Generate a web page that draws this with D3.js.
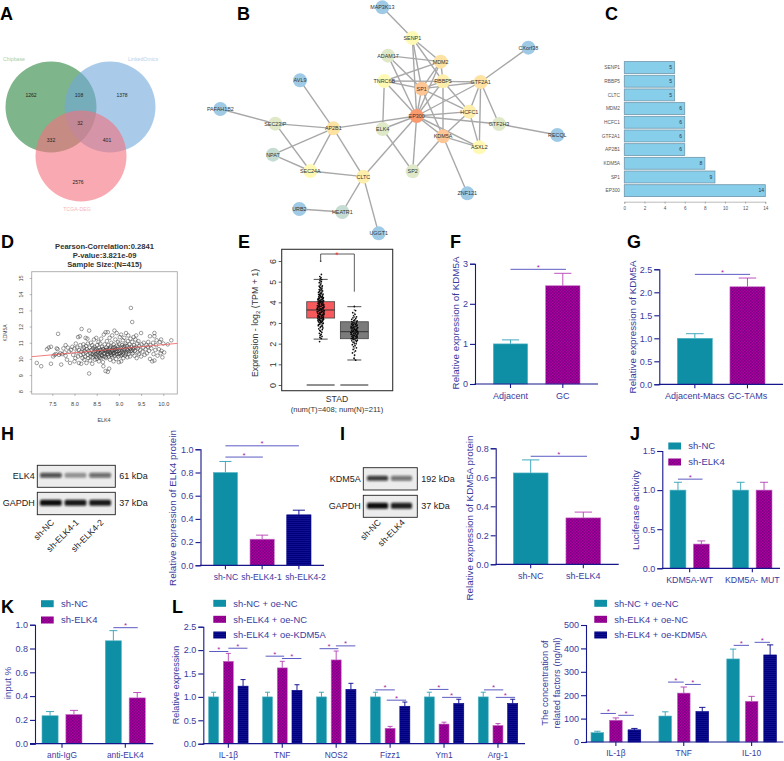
<!DOCTYPE html>
<html>
<head>
<meta charset="utf-8">
<script src="https://cdnjs.cloudflare.com/ajax/libs/d3/7.8.5/d3.min.js"></script>
<style>
  html, body { margin: 0; background: #fff; }
  svg { display: block; font-family: "Liberation Sans", Arial, sans-serif; }
</style>
</head>
<body>
<svg id="chart" width="784" height="761"></svg>
<script>
// ---- A: venn
const vennSets = ["Chipbase", "LinkedOmics", "TCGA-DEG"];
const vennCounts = ["1262", "108", "1378", "332", "32", "401", "2576"];

// ---- B: network (names, layout units from the picture, colour tier = degree)
const nodeNames = ["MAP3K13","SENP1","ADAM17","MDM2","CXorf38","TNRC6B","RBBP5","SP1","GTF2A1","AVL9","HCFC1","EP300","PAFAH1B2","SEC23IP","AP2B1","ELK4","GTF2H3","RECQL","KDM5A","ASXL2","NPAT","SEC24A","CLTC","SP2","ZNF121","URB2","HEATR1","UGGT1"];
const nodeLayoutX = [547,637,564,722,985,553,729,665,842,300,808,650,61,226,400,548,897,1072,729,838,219,331,490,638,802,298,427,536];
const nodeLayoutY = [22,114,167,185,143,243,244,266,246,241,335,348,327,371,385,387,372,405,409,442,464,513,530,514,580,627,636,700];
const nodeTier = [0,3,2,5,0,3,4,6,5,0,4,7,0,2,5,2,2,0,6,3,1,3,4,2,0,0,1,0];
const edgeList = [
  ["MAP3K13","SENP1"],["SENP1","MDM2"],["SENP1","SP1"],["SENP1","EP300"],["SENP1","RBBP5"],
  ["ADAM17","MDM2"],["ADAM17","EP300"],["ADAM17","SP1"],["MDM2","TNRC6B"],["MDM2","SP1"],
  ["MDM2","RBBP5"],["MDM2","EP300"],["TNRC6B","RBBP5"],["TNRC6B","SP1"],["TNRC6B","EP300"],
  ["TNRC6B","ELK4"],["RBBP5","SP1"],["RBBP5","EP300"],["RBBP5","KDM5A"],["RBBP5","GTF2A1"],
  ["RBBP5","HCFC1"],["SP1","GTF2A1"],["SP1","EP300"],["SP1","HCFC1"],["SP1","KDM5A"],
  ["GTF2A1","CXorf38"],["GTF2A1","EP300"],["GTF2A1","HCFC1"],["GTF2A1","GTF2H3"],["GTF2A1","ASXL2"],
  ["HCFC1","EP300"],["HCFC1","KDM5A"],["HCFC1","ASXL2"],["EP300","KDM5A"],["EP300","ASXL2"],
  ["EP300","GTF2H3"],["EP300","AP2B1"],["EP300","ELK4"],["EP300","SP2"],["EP300","CLTC"],
  ["KDM5A","ASXL2"],["KDM5A","SP2"],["KDM5A","ZNF121"],["ELK4","SP2"],["GTF2H3","RECQL"],
  ["AVL9","AP2B1"],["PAFAH1B2","SEC23IP"],["SEC23IP","AP2B1"],["SEC23IP","SEC24A"],["AP2B1","NPAT"],
  ["AP2B1","SEC24A"],["AP2B1","CLTC"],["NPAT","SEC24A"],["SEC24A","CLTC"],["CLTC","HEATR1"],
  ["CLTC","UGGT1"],["URB2","HEATR1"]
];

// ---- C: hub genes
const hubGenes = ["SENP1","RBBP5","CLTC","MDM2","HCFC1","GTF2A1","AP2B1","KDM5A","SP1","EP300"];
const hubDegrees = [5,5,5,6,6,6,6,8,9,14];

// ---- D: correlation scatter, [ELK4, KDM5A]
const scatterPoints = [
  [7.15,9.75],[7.25,9.55],[7.38,10.6],[7.42,10.7],[7.47,10.75],[7.47,9.7],[7.52,10.15],[7.55,10.25],[7.58,10.3],[7.6,10.65],
  [7.62,10.6],[7.63,11.55],[7.65,10.25],[7.68,10.35],[7.7,9.65],[7.72,10.3],[7.75,10.65],[7.78,10.4],[7.8,10.85],[7.8,10.2],
  [7.83,9.95],[7.85,10.7],[7.88,10.45],[7.9,9.75],[7.92,10.55],[7.95,10.75],[7.97,10.25],[8.0,9.85],[8.0,10.65],[8.02,10.05],
  [8.03,10.95],[8.05,10.4],[8.06,10.7],[8.08,10.15],[8.08,11.35],[8.1,9.75],[8.1,10.55],[8.12,11.4],[8.13,10.85],[8.14,10.25],
  [8.15,9.7],[8.15,10.45],[8.16,11.85],[8.18,10.6],[8.18,10.05],[8.2,10.9],[8.2,10.3],[8.21,10.7],[8.22,9.95],[8.23,10.5],
  [8.24,10.15],[8.25,11.3],[8.25,10.4],[8.26,10.8],[8.27,9.75],[8.28,10.6],[8.29,11.25],[8.3,10.25],[8.3,10.95],[8.31,10.05],
  [8.32,10.5],[8.33,9.1],[8.33,11.75],[8.34,10.7],[8.35,10.35],[8.35,9.9],[8.36,10.15],[8.37,11.0],[8.38,10.55],[8.39,10.3],
  [8.4,10.85],[8.4,9.7],[8.41,10.1],[8.42,10.65],[8.43,10.4],[8.44,11.2],[8.45,10.2],[8.45,10.75],[8.46,9.95],[8.47,10.5],
  [8.48,10.3],[8.49,11.3],[8.5,10.6],[8.5,10.0],[8.51,10.85],[8.52,10.25],[8.53,10.45],[8.54,11.05],[8.55,9.85],[8.55,10.7],
  [8.56,10.15],[8.57,10.35],[8.58,10.95],[8.59,10.55],[8.6,10.05],[8.6,11.25],[8.61,10.25],[8.62,10.75],[8.63,10.45],[8.64,9.8],
  [8.65,9.55],[8.65,10.6],[8.66,11.5],[8.67,10.15],[8.68,10.9],[8.68,10.35],[8.7,9.25],[8.7,10.55],[8.7,11.65],[8.71,10.05],
  [8.72,10.7],[8.73,11.1],[8.74,10.3],[8.75,9.2],[8.75,10.45],[8.75,11.65],[8.76,10.85],[8.77,10.15],[8.78,9.4],[8.78,10.6],
  [8.79,11.3],[8.8,9.95],[8.8,10.4],[8.81,10.75],[8.82,10.25],[8.83,11.0],[8.84,10.5],[8.85,10.1],[8.85,11.45],[8.86,10.65],
  [8.87,10.35],[8.88,10.9],[8.88,9.85],[8.89,10.55],[8.9,11.75],[8.9,10.2],[8.91,10.7],[8.92,11.2],[8.93,10.45],[8.94,10.0],
  [8.95,10.8],[8.95,11.6],[8.96,10.3],[8.97,10.6],[8.98,11.05],[8.99,10.15],[9.0,10.5],[9.0,9.8],[9.01,10.95],[9.02,11.35],
  [9.03,10.35],[9.04,10.7],[9.05,9.85],[9.05,11.5],[9.06,10.25],[9.07,10.85],[9.08,10.55],[9.09,11.15],[9.1,10.4],[9.1,10.05],
  [9.11,10.75],[9.12,11.3],[9.13,10.6],[9.14,10.2],[9.15,10.95],[9.16,11.6],[9.17,10.45],[9.18,10.8],[9.19,10.1],[9.2,11.1],
  [9.2,10.55],[9.21,11.45],[9.22,10.3],[9.23,10.7],[9.24,10.9],[9.25,10.15],[9.26,11.25],[9.27,13.15],[9.27,10.5],[9.28,10.75],
  [9.3,12.28],[9.3,11.05],[9.31,10.35],[9.32,10.6],[9.33,11.35],[9.34,10.85],[9.35,10.2],[9.36,10.5],[9.37,11.2],[9.38,10.7],
  [9.39,11.45],[9.4,10.05],[9.41,10.95],[9.42,10.4],[9.43,10.65],[9.44,11.1],[9.45,10.3],[9.46,10.8],[9.48,10.55],[9.5,11.6],
  [9.5,10.15],[9.51,10.9],[9.53,10.45],[9.55,10.7],[9.56,11.0],[9.58,10.25],[9.6,10.6],[9.62,10.85],[9.63,10.35],[9.65,10.75],
  [9.66,11.05],[9.68,10.5],[9.7,11.4],[9.7,10.0],[9.71,10.85],[9.73,10.65],[9.75,9.85],[9.77,11.0],[9.78,10.3],[9.8,11.6],
  [9.8,11.4],[9.8,9.9],[9.82,10.55],[9.84,10.85],[9.85,11.15],[9.87,10.2],[9.9,10.6],[9.92,11.05],[9.94,10.35],[9.95,11.2],
  [9.96,10.5],[9.98,10.1],[10.0,10.95],[10.02,10.4],[10.1,10.9],[10.18,11.15],
  // dense middle of the cloud
  [8.42,10.28],[8.46,10.62],[8.49,10.12],[8.52,10.38],[8.55,10.52],[8.57,10.08],[8.6,10.42],[8.62,10.18],[8.64,10.62],[8.66,10.32],
  [8.68,10.52],[8.7,10.12],[8.72,10.42],[8.74,10.58],[8.76,10.28],[8.78,10.48],[8.8,10.68],[8.82,10.38],[8.84,10.22],[8.86,10.48],
  [8.88,10.72],[8.9,10.36],[8.92,10.58],[8.94,10.28],[8.96,10.48],[8.98,10.72],[9.0,10.3],[9.02,10.58],[9.04,10.18],[9.06,10.46],
  [9.08,10.72],[9.1,10.28],[9.12,10.52],[9.14,10.82],[9.16,10.32],[9.18,10.58],[9.22,10.46],[9.26,10.62],[9.3,10.48],[9.34,10.7]
];
const elk4Ticks = [7.5, 8, 8.5, 9, 9.5, 10];
const kdm5aTicks = [8, 9, 10, 11, 12, 13, 14, 15];
const fitLineX = [7.04, 10.32];
const fitLineY = [10.14, 10.96];

// ---- E: box plot (T / N)
const boxGroups = ["T", "N"];
const boxQ1 = [3.24, 2.24];
const boxMedian = [3.63, 2.58];
const boxQ3 = [4.03, 3.06];
const boxLow = [2.22, 1.21];
const boxHigh = [5.11, 3.79];
const stripT = [
  6.0,5.35,5.25,5.2,5.15,5.1,5.05,5.0,4.95,4.9,4.85,4.8,4.78,4.75,4.72,4.7,4.66,4.62,4.6,4.58,4.55,4.52,4.5,4.48,4.45,4.42,4.4,4.38,
  4.35,4.33,4.3,4.28,4.26,4.24,4.22,4.2,4.18,4.16,4.14,4.12,4.1,4.08,4.06,4.04,4.02,4.0,3.98,3.96,3.94,3.92,3.9,3.88,3.86,3.84,3.82,
  3.8,3.78,3.76,3.74,3.72,3.7,3.68,3.66,3.64,3.62,3.6,3.58,3.56,3.54,3.52,3.5,3.48,3.46,3.44,3.42,3.4,3.38,3.36,3.34,3.32,3.3,3.28,
  3.26,3.24,3.22,3.2,3.18,3.16,3.14,3.12,3.1,3.08,3.05,3.02,3.0,2.97,2.94,2.9,2.87,2.84,2.8,2.76,2.72,2.68,2.64,2.6,2.55,2.5,2.45,
  2.4,2.35,2.3,2.25,2.1,
  4.41,4.31,4.23,4.17,4.11,4.07,4.03,3.99,3.95,3.91,3.87,3.83,3.79,3.75,3.71,3.67,3.63,3.59,3.55,3.51,3.47,3.43,3.39,3.35,3.31,3.27,
  3.23,3.19,3.15,3.11,3.07,3.03,2.99,2.92,2.85,4.37,4.27,4.19,4.13,4.05,3.97,3.89,3.81,3.73,3.65,3.57,3.49,3.41,3.33,3.25,3.17,3.09
];
const stripN = [
  3.8,3.6,3.5,3.42,3.35,3.3,3.25,3.22,3.18,3.15,3.12,3.1,3.07,3.05,3.02,3.0,2.98,2.96,2.94,2.92,2.9,2.88,2.86,2.84,2.82,2.8,2.78,
  2.76,2.74,2.72,2.7,2.68,2.66,2.64,2.62,2.6,2.58,2.56,2.54,2.52,2.5,2.48,2.46,2.44,2.42,2.4,2.38,2.36,2.34,2.32,2.3,2.28,2.26,2.24,
  2.22,2.2,2.17,2.14,2.1,2.07,2.03,2.0,1.95,1.9,1.85,1.8,1.72,1.65,1.55,1.45,1.3,1.2,
  2.95,2.87,2.79,2.71,2.63,2.55,2.47,2.39,2.31,2.23,2.15,2.77,2.69,2.61,2.53,2.45,2.37,2.29
];
const stripJitter = [0, 2.4, -2.8, 1.2, -1.2, 3.3, -2, 2, -3.6, 0.7, -0.7, 3.7, -3.2, 2.9, -1.6];
const expressionTicks = [0, 1, 2, 3, 4, 5, 6];

// ---- F
const fCats = ["Adjacent", "GC"];
const fValues = [1.0, 2.45];
const fErrors = [1.1, 2.76];
const fTicks = [0, 1, 2, 3];
// ---- G
const gCats = ["Adjacent-Macs", "GC-TAMs"];
const gValues = [1.0, 2.12];
const gErrors = [1.1, 2.31];
const gTicks = [0, 0.5, 1, 1.5, 2, 2.5];
// ---- H
const hCats = ["sh-NC", "sh-ELK4-1", "sh-ELK4-2"];
const hValues = [0.8, 0.225, 0.435];
const hErrors = [0.895, 0.26, 0.475];
const hTicks = [0, 0.2, 0.4, 0.6, 0.8, 1];
const hBlotElk4 = [0.7, 0.38, 0.58];
const hBlotGapdh = [1, 0.95, 0.95];
// ---- I
const iCats = ["sh-NC", "sh-ELK4"];
const iValues = [0.63, 0.32];
const iErrors = [0.72, 0.36];
const iTicks = [0, 0.2, 0.4, 0.6, 0.8];
const iBlotKdm5a = [0.8, 0.55];
const iBlotGapdh = [1, 0.92];
// ---- J
const jCats = ["KDM5A-WT", "KDM5A- MUT"];
const jNC = [1.0, 1.0];
const jELK4 = [0.31, 1.0];
const jNCErr = [1.1, 1.1];
const jELK4Err = [0.35, 1.1];
const jTicks = [0, 0.5, 1, 1.5];
// ---- K
const kCats = ["anti-IgG", "anti-ELK4"];
const kNC = [0.235, 0.865];
const kELK4 = [0.245, 0.385];
const kNCErr = [0.27, 0.95];
const kELK4Err = [0.28, 0.43];
const kTicks = [0, 0.2, 0.4, 0.6, 0.8, 1];
// ---- L left
const lCats = ["IL-1β", "TNF", "NOS2", "Fizz1", "Ym1", "Arg-1"];
const lNC = [1.0, 1.0, 1.0, 1.0, 1.0, 1.0];
const lELK4 = [1.76, 1.62, 1.79, 0.33, 0.42, 0.39];
const lKDM = [1.23, 1.14, 1.16, 0.8, 0.86, 0.86];
const lNCErr = [1.1, 1.1, 1.1, 1.1, 1.1, 1.1];
const lELK4Err = [1.93, 1.76, 1.98, 0.37, 0.46, 0.43];
const lKDMErr = [1.37, 1.26, 1.29, 0.89, 0.95, 0.95];
const lTicks = [0, 0.5, 1, 1.5, 2, 2.5];
// ---- L right
const mCats = ["IL-1β", "TNF", "IL-10"];
const mNC = [40, 111, 355];
const mELK4 = [93, 209, 174];
const mKDM = [52, 130, 372];
const mNCErr = [46, 129, 397];
const mELK4Err = [103, 235, 195];
const mKDMErr = [58, 148, 415];
const mTicks = [0, 100, 200, 300, 400, 500];
const legendTwo = ["sh-NC", "sh-ELK4"];
const legendThree = ["sh-NC + oe-NC", "sh-ELK4 + oe-NC", "sh-ELK4 + oe-KDM5A"];

const svg = d3.select("#chart");
const ink = "#3a3a9e";
const axisInk = "#17178c";
const teal = "#0f8fa6";

function txt(g, x, y, s, o = {}) {
  const t = g.append("text")
    .attr("x", x).attr("y", y)
    .attr("font-size", o.size || 9)
    .attr("fill", o.fill || ink)
    .attr("text-anchor", o.anchor || "middle")
    .text(s);
  if (o.weight) t.attr("font-weight", o.weight);
  if (o.rotate !== undefined) t.attr("transform", `rotate(${o.rotate} ${x} ${y})`);
  return t;
}

// fills
const defs = svg.append("defs");
const purpleP = defs.append("pattern").attr("id", "purple")
  .attr("width", 3).attr("height", 3).attr("patternUnits", "userSpaceOnUse");
purpleP.append("rect").attr("width", 3).attr("height", 3).attr("fill", "#b000a4");
purpleP.append("rect").attr("width", 1.5).attr("height", 1.5).attr("fill", "#76007e");
purpleP.append("rect").attr("x", 1.5).attr("y", 1.5).attr("width", 1.5).attr("height", 1.5).attr("fill", "#76007e");
const navyP = defs.append("pattern").attr("id", "navy")
  .attr("width", 2).attr("height", 2).attr("patternUnits", "userSpaceOnUse");
navyP.append("rect").attr("width", 2).attr("height", 2).attr("fill", "#00007c");
navyP.append("rect").attr("width", 2).attr("height", 0.7).attr("fill", "#14149a");
defs.append("filter").attr("id", "band").attr("x", "-20%").attr("y", "-60%").attr("width", "140%").attr("height", "220%")
  .append("feGaussianBlur").attr("stdDeviation", "1.1 0.8");

const tealFill = { fill: teal, stroke: "#58b6c6", err: "#2f9fb5" };
const purpleFill = { fill: "url(#purple)", stroke: "#c56cc4", err: "#b53fb5" };
const navyFill = { fill: "url(#navy)", stroke: "#00008b", err: "#00008b" };

// panel letters
const letters = [["A",0,20],["B",237,20],["C",605,20],["D",1,248],["E",238,248],["F",450,248],["G",627,248],["H",1,440],["I",340,440],["J",630,440],["K",1,613],["L",172,613]];
letters.forEach(d => txt(svg, d[1], d[2], d[0], { size: 18, weight: "bold", fill: "#000", anchor: "start" }));

// ---- A
function drawVenn() {
  const g = svg.append("g");
  const cx = d3.scaleOrdinal().domain(vennSets).range([51, 110, 81]);
  const cy = d3.scaleOrdinal().domain(vennSets).range([107, 107, 156]);
  const fill = d3.scaleOrdinal().domain(vennSets).range(["#2a843c", "#70a8da", "#f5707d"]);
  g.selectAll("circle").data(vennSets).enter().append("circle")
    .attr("cx", cx).attr("cy", cy).attr("r", 45.5)
    .attr("fill", fill).attr("fill-opacity", 0.6);
  const labelAt = [[14, 61, "#a5cfa8"], [143, 61, "#b5d2ea"], [77, 211, "#f8b5bb"]];
  vennSets.forEach((s, i) => txt(g, labelAt[i][0], labelAt[i][1], s, { size: 5.2, fill: labelAt[i][2] }));
  const countAt = [[31, 97], [79, 97], [122, 97], [51, 142], [80, 125], [107, 142], [78, 184]];
  vennCounts.forEach((s, i) => txt(g, countAt[i][0], countAt[i][1], s, { size: 5, fill: "#222" }));
}

// ---- B
function drawNetwork() {
  const g = svg.append("g");
  const x = d3.scaleLinear().domain([0, 1080]).range([200, 560]);
  const y = d3.scaleLinear().domain([0, 720]).range([0, 240]);
  const nodes = nodeNames.map((name, i) => ({ name, x: nodeLayoutX[i], y: nodeLayoutY[i], tier: nodeTier[i] }));
  const byName = new Map(nodes.map(d => [d.name, d]));
  const tierColor = d3.scaleOrdinal().domain(d3.range(8))
    .range(["#9ecae6", "#c4dcd2", "#dfe9c8", "#fff9b4", "#feeeab", "#fde2a2", "#fdc694", "#fb9a6c"]);
  g.selectAll("line").data(edgeList).enter().append("line")
    .attr("x1", d => x(byName.get(d[0]).x)).attr("y1", d => y(byName.get(d[0]).y))
    .attr("x2", d => x(byName.get(d[1]).x)).attr("y2", d => y(byName.get(d[1]).y))
    .attr("stroke", "#a8a8a8").attr("stroke-width", 1.4);
  g.selectAll("circle").data(nodes).enter().append("circle")
    .attr("cx", d => x(d.x)).attr("cy", d => y(d.y)).attr("r", 7)
    .attr("fill", d => tierColor(d.tier));
  g.selectAll("text").data(nodes).enter().append("text")
    .attr("x", d => x(d.x)).attr("y", d => y(d.y) + 1.9)
    .attr("text-anchor", "middle").attr("font-size", 5.4).attr("fill", "#333")
    .text(d => d.name);
}

// ---- C
function drawHubs() {
  const g = svg.append("g");
  const x = d3.scaleLinear().domain([0, 14]).range([624.3, 765.3]);
  const y = d3.scaleBand().domain(hubGenes).range([61.6, 196.6]).paddingInner(0.13);
  g.selectAll("rect").data(hubGenes).enter().append("rect")
    .attr("x", x(0)).attr("y", d => y(d)).attr("height", y.bandwidth())
    .attr("width", (d, i) => x(hubDegrees[i]) - x(0))
    .attr("fill", "#87ceeb").attr("stroke", "#6f97ab").attr("stroke-width", 0.8);
  g.selectAll("text.v").data(hubGenes).enter().append("text").attr("class", "v")
    .attr("x", (d, i) => x(hubDegrees[i]) - 4)
    .attr("y", d => y(d) + y.bandwidth() / 2 + 1.8)
    .attr("text-anchor", "middle").attr("font-size", 5).attr("fill", "#333")
    .text((d, i) => hubDegrees[i]);
  hubGenes.forEach(d => txt(g, 620, y(d) + y.bandwidth() / 2 + 1.6, d, { size: 4.8, fill: "#555", anchor: "end" }));
  const ax = g.append("g").attr("transform", "translate(0,201.7)")
    .call(d3.axisBottom(x).tickValues([0, 2, 4, 6, 8, 10, 12, 14]).tickSize(2).tickPadding(3));
  ax.selectAll("path,line").attr("stroke", "#777").attr("stroke-width", 0.5);
  ax.selectAll("text").attr("font-size", 4.6).attr("fill", "#555");
  ax.attr("font-family", null);
}

// ---- D
function drawScatter() {
  const g = svg.append("g");
  const x = d3.scaleLinear().domain([7.5, 10]).range([52.3, 163.3]);
  const y = d3.scaleLinear().domain([8, 15]).range([391.3, 278]);
  ["Pearson-Correlation:0.2841", "P-value:3.821e-09", "Sample Size:(N=415)"].forEach((s, i) =>
    txt(g, 104.5, 249 + i * 9.2, s, { size: 7.6, weight: "bold", fill: "#333" }));
  g.selectAll("circle").data(scatterPoints).enter().append("circle")
    .attr("cx", d => x(d[0])).attr("cy", d => y(d[1])).attr("r", 1.8)
    .attr("fill", "none").attr("stroke", "#2a2a2a").attr("stroke-width", 0.45);
  g.append("line")
    .attr("x1", x(fitLineX[0])).attr("y1", y(fitLineY[0]))
    .attr("x2", x(fitLineX[1])).attr("y2", y(fitLineY[1]))
    .attr("stroke", "#ef5a5a").attr("stroke-width", 0.8);
  g.append("rect").attr("x", 31.7).attr("y", 271.7).attr("width", 145.6).attr("height", 122.3)
    .attr("fill", "none").attr("stroke", "#a9a9a9").attr("stroke-width", 0.9);
  const ax = g.append("g").attr("transform", "translate(0,394)")
    .call(d3.axisBottom(x).tickValues(elk4Ticks).tickFormat(d3.format(".1f")).tickSize(2).tickPadding(6));
  ax.select(".domain").remove();
  ax.selectAll("line").attr("stroke", "#777").attr("stroke-width", 0.5);
  ax.selectAll("text").attr("font-size", 5.6).attr("fill", "#444");
  const ay = g.append("g").attr("transform", "translate(31.7,0)")
    .call(d3.axisLeft(y).tickValues(kdm5aTicks).tickFormat(d3.format("d")).tickSize(2).tickPadding(7));
  ay.select(".domain").remove();
  ay.selectAll("line").attr("stroke", "#777").attr("stroke-width", 0.5);
  ay.selectAll("text").attr("font-size", 5.6).attr("fill", "#444")
    .attr("text-anchor", "middle").attr("dy", 0)
    .attr("transform", "rotate(-90 -9 0)");
  txt(g, 104, 422, "ELK4", { size: 5.4, fill: "#444" });
  txt(g, 6.8, 333, "KDM5A", { size: 5, fill: "#444", rotate: -90 });
}

// ---- E
function drawBox() {
  const g = svg.append("g");
  const x = d3.scaleBand().domain(boxGroups).range([306.7, 368.3]).paddingInner(0.17);
  const y = d3.scaleLinear().domain([0, 6]).range([385, 261]);
  const boxFill = ["#f8595c", "#7b7b7b"];
  boxGroups.forEach((k, i) => {
    const c = x(k) + x.bandwidth() / 2;
    g.append("line").attr("x1", c).attr("x2", c).attr("y1", y(boxLow[i])).attr("y2", y(boxHigh[i]))
      .attr("stroke", "#222").attr("stroke-width", 0.6).attr("stroke-dasharray", "2 1.5");
    [boxLow[i], boxHigh[i]].forEach(v => {
      g.append("line").attr("x1", c - 7).attr("x2", c + 7).attr("y1", y(v)).attr("y2", y(v))
        .attr("stroke", "#222").attr("stroke-width", 0.8);
    });
    g.append("rect").attr("x", x(k)).attr("width", x.bandwidth())
      .attr("y", y(boxQ3[i])).attr("height", y(boxQ1[i]) - y(boxQ3[i]))
      .attr("fill", boxFill[i]).attr("stroke", "#444").attr("stroke-width", 0.8);
    g.append("line").attr("x1", x(k)).attr("x2", x(k) + x.bandwidth())
      .attr("y1", y(boxMedian[i])).attr("y2", y(boxMedian[i]))
      .attr("stroke", "#333").attr("stroke-width", 1);
    // the flat line at zero under each box
    g.append("line").attr("x1", x(k)).attr("x2", x(k) + x.bandwidth())
      .attr("y1", y(0)).attr("y2", y(0)).attr("stroke", "#222").attr("stroke-width", 1);
  });
  [[stripT, "T", boxMedian[0]], [stripN, "N", boxMedian[1]]].forEach(([vals, k, med]) => {
    const c = x(k) + x.bandwidth() / 2;
    const spread = d3.scaleLinear().domain([0, 1.5]).range([1, 0.3]).clamp(true);
    g.append("g").selectAll("circle").data(vals).enter().append("circle")
      .attr("cx", (v, i) => c + stripJitter[i % stripJitter.length] * spread(Math.abs(v - med)))
      .attr("cy", v => y(v)).attr("r", 0.85).attr("fill", "#0a0a0a");
  });
  g.append("rect").attr("x", 281.7).attr("y", 249.3).attr("width", 111).attr("height", 141.4)
    .attr("fill", "none").attr("stroke", "#333").attr("stroke-width", 1.1);
  const ay = g.append("g").attr("transform", "translate(281.7,0)")
    .call(d3.axisLeft(y).tickValues(expressionTicks).tickFormat(d3.format("d")).tickSize(3).tickPadding(3));
  ay.select(".domain").remove();
  ay.selectAll("line").attr("stroke", "#333").attr("stroke-width", 0.8);
  ay.selectAll("text").attr("font-size", 9).attr("fill", "#333")
    .attr("text-anchor", "middle").attr("dy", 0)
    .attr("transform", "rotate(-90 -6 0)");
  // bracket T vs N
  const bx1 = x("T") + x.bandwidth() / 2, bx2 = x("N") + x.bandwidth() / 2;
  g.append("path").attr("d", d3.line()([[bx1, 260], [bx1, 254], [bx2, 254], [bx2, 291.7]]))
    .attr("fill", "none").attr("stroke", "#333").attr("stroke-width", 0.8);
  txt(g, 337, 257.5, "*", { size: 9, fill: "#e8353a" });
  txt(g, 337, 402, "STAD", { size: 8.6, fill: "#333" });
  txt(g, 337, 411.5, "(num(T)=408; num(N)=211)", { size: 7.6, fill: "#333" });
  const yl = txt(g, 258, 323, "Expression - log", { size: 8.8, fill: "#333", rotate: -90 });
  yl.append("tspan").attr("font-size", 6).attr("dy", 2).text("2");
  yl.append("tspan").attr("dy", -2).text(" (TPM + 1)");
}

// ---- shared bar panels
function drawBars(o) {
  const g = svg.append("g");
  const x0 = d3.scaleBand().domain(o.cats).range(o.span).paddingInner(o.groupGap);
  const grouped = o.values.length > 1;
  const x1 = grouped
    ? d3.scaleBand().domain(d3.range(o.values.length)).range([0, x0.bandwidth()]).paddingInner(o.barGap)
    : null;
  const y = d3.scaleLinear().domain([0, o.ymax]).range([o.y0, o.yTop]);
  const barW = grouped ? x1.bandwidth() : x0.bandwidth();
  const unit = grouped ? x1.step() : x0.step();
  const centre = d => x0(d) + x0.bandwidth() / 2;

  o.values.forEach((vals, s) => {
    o.cats.forEach((c, i) => {
      const left = x0(c) + (grouped ? x1(s) : 0);
      const st = o.fills[grouped ? s : i];
      const mid = left + barW / 2;
      const top = y(o.errors[s][i]);
      g.append("line").attr("x1", mid).attr("x2", mid).attr("y1", y(vals[i])).attr("y2", top)
        .attr("stroke", st.err).attr("stroke-width", 0.9);
      g.append("line").attr("x1", mid - barW / 4).attr("x2", mid + barW / 4).attr("y1", top).attr("y2", top)
        .attr("stroke", st.err).attr("stroke-width", 0.9);
      g.append("rect").attr("x", left).attr("width", barW)
        .attr("y", y(vals[i])).attr("height", y(0) - y(vals[i]))
        .attr("fill", st.fill).attr("stroke", st.stroke).attr("stroke-width", 0.6);
    });
  });

  const ay = g.append("g").attr("transform", `translate(${o.axisLeft},0)`)
    .call(d3.axisLeft(y).tickValues(o.ticks).tickFormat(o.format).tickSizeOuter(0).tickSize(5).tickPadding(2));
  ay.selectAll("path,line").attr("stroke", axisInk).attr("stroke-width", 1.1);
  ay.selectAll("text").attr("font-size", o.tickSize || 9).attr("fill", ink);

  const ax = g.append("g").attr("transform", `translate(0,${o.y0})`)
    .call(d3.axisBottom(x0).tickSize(4).tickPadding(4.5));
  ax.select(".domain").remove();
  ax.selectAll("line").attr("stroke", axisInk).attr("stroke-width", 1.1);
  ax.selectAll("text").attr("font-size", o.labelSize || 9).attr("fill", ink)
    .attr("dx", (d, i) => (o.labelShift ? o.labelShift[i] : 0));
  g.append("line").attr("x1", o.axisStart || o.axisLeft - 0.5).attr("x2", o.axisRight).attr("y1", o.y0).attr("y2", o.y0)
    .attr("stroke", axisInk).attr("stroke-width", 1.2);

  (o.sig || []).forEach(d => {
    const cx = centre(o.cats[d[0]]);
    const a = cx + d[1] * unit, b = cx + d[2] * unit, ly = y(d[3]);
    g.append("line").attr("x1", a).attr("x2", b).attr("y1", ly).attr("y2", ly)
      .attr("stroke", "#4848bc").attr("stroke-width", 0.9);
    txt(g, (a + b) / 2, ly + 0.5, "*", { size: 8, fill: "#a52aa5" });
  });

  if (o.yLabel) {
    o.yLabel.forEach((s, i) => txt(g, o.yLabelX + i * 12.6, o.yLabelY, s, { size: o.yLabelSize || 9.8, rotate: -90 }));
  }
  return g;
}

function legend(names, swatchX, ys, fills, size) {
  const g = svg.append("g");
  names.forEach((n, i) => {
    g.append("rect").attr("x", swatchX).attr("y", ys[i] - 3.5).attr("width", 12.7).attr("height", 7)
      .attr("fill", fills[i].fill);
    txt(g, swatchX + 20, ys[i] + 3.4, n, { size, anchor: "start" });
  });
}

// western blots
function drawBlot(o) {
  const g = svg.append("g");
  const x = d3.scaleBand().domain(o.lanes).range(o.span).paddingInner(0.12);
  o.rows.forEach(r => {
    g.append("rect").attr("x", o.left).attr("y", r.top).attr("width", o.width).attr("height", r.h)
      .attr("fill", "#ececec");
    g.selectAll(null).data(o.lanes).enter().append("rect")
      .attr("x", d => x(d)).attr("width", x.bandwidth())
      .attr("y", r.top + r.bandAt - r.bandH / 2).attr("height", r.bandH).attr("rx", 1.5)
      .attr("fill", "#0c0c0c").attr("fill-opacity", (d, i) => r.levels[i])
      .attr("filter", "url(#band)");
    g.append("rect").attr("x", o.left).attr("y", r.top).attr("width", o.width).attr("height", r.h)
      .attr("fill", "none").attr("stroke", "#222").attr("stroke-width", 0.9);
    txt(g, o.left - 2.5, r.top + r.bandAt + 3.2, r.name, { size: 9, fill: "#222", anchor: "end" });
    txt(g, o.left + o.width + 4, r.top + r.bandAt + 3.2, r.kda, { size: 9, fill: "#222", anchor: "start" });
  });
  o.lanes.forEach(d => {
    const ex = x(d) + x.bandwidth() / 2 + 4, ey = o.laneY;
    txt(g, ex, ey, d, { size: 8.8, fill: "#222", anchor: "end", rotate: -45 });
  });
}

drawVenn();
drawNetwork();
drawHubs();
drawScatter();
drawBox();

drawBars({
  cats: fCats, values: [fValues], errors: [fErrors], fills: [tealFill, purpleFill],
  span: [493.3, 580], groupGap: 0.343, y0: 384, yTop: 263.7, ymax: 3, ticks: fTicks, format: d3.format("d"),
  axisLeft: 475, axisRight: 598, sig: [[0, 0, 1.06, 2.86]],
  yLabel: ["Relative expression of KDM5A"], yLabelX: 459, yLabelY: 323
});
drawBars({
  cats: gCats, values: [gValues], errors: [gErrors], fills: [tealFill, purpleFill],
  span: [677.3, 765], groupGap: 0.334, y0: 384.3, yTop: 269.3, ymax: 2.5, ticks: gTicks, format: d3.format(".1f"),
  axisLeft: 659.3, axisRight: 783, sig: [[0, 0, 1.05, 2.39]],
  yLabel: ["Relative expression of KDM5A"], yLabelX: 636, yLabelY: 327
});
drawBlot({
  lanes: hCats, left: 37.3, width: 78, span: [40, 111], laneY: 523,
  rows: [
    { name: "ELK4", kda: "61 kDa", top: 465.3, h: 22, bandAt: 10, bandH: 5, levels: hBlotElk4 },
    { name: "GAPDH", kda: "37 kDa", top: 492.3, h: 22.4, bandAt: 10.4, bandH: 6, levels: hBlotGapdh }
  ]
});
drawBars({
  cats: hCats, values: [hValues], errors: [hErrors], fills: [tealFill, purpleFill, navyFill],
  span: [213.3, 311], groupGap: 0.34, y0: 565.3, yTop: 449.3, ymax: 1, ticks: hTicks, format: d3.format(".1f"),
  axisLeft: 200.5, axisRight: 324, labelSize: 8.6, labelShift: [0.5, -0.7, 6.7], sig: [[0, 0, 2, 1.03], [0, 0, 1.02, 0.933]],
  yLabel: ["Relative expression of ELK4 protein"], yLabelX: 176, yLabelY: 508
});
drawBlot({
  lanes: iCats, left: 363.3, width: 54, span: [367, 412], laneY: 523,
  rows: [
    { name: "KDM5A", kda: "192 kDa", top: 467.7, h: 22.3, bandAt: 10.6, bandH: 5, levels: iBlotKdm5a },
    { name: "GAPDH", kda: "37 kDa", top: 495.3, h: 22, bandAt: 10.4, bandH: 6, levels: iBlotGapdh }
  ]
});
drawBars({
  cats: iCats, values: [iValues], errors: [iErrors], fills: [tealFill, purpleFill],
  span: [513.3, 600.7], groupGap: 0.34, y0: 564.3, yTop: 448.3, ymax: 0.8, ticks: iTicks, format: d3.format(".1f"),
  axisLeft: 495.7, axisRight: 618.7, sig: [[0, 0, 1.07, 0.745]],
  yLabel: ["Relative expression of KDM5A  protein"], yLabelX: 472.5, yLabelY: 518
});
drawBars({
  cats: jCats, values: [jNC, jELK4], errors: [jNCErr, jELK4Err], fills: [tealFill, purpleFill],
  span: [670, 772], groupGap: 0.373, barGap: 0.32, y0: 568.3, yTop: 451, ymax: 1.5, ticks: jTicks, format: d3.format(".1f"),
  axisLeft: 662.3, axisRight: 780, labelSize: 8.8, sig: [[0, -0.5, 0.55, 1.14]],
  yLabel: ["Luciferase acitivity"], yLabelX: 639, yLabelY: 510
});
legend(legendTwo, 668.3, [446, 462], [tealFill, purpleFill], 9.5);
drawBars({
  cats: kCats, values: [kNC, kELK4], errors: [kNCErr, kELK4Err], fills: [tealFill, purpleFill],
  span: [42, 145.3], groupGap: 0.368, barGap: 0.325, y0: 743.7, yTop: 624.7, ymax: 1, ticks: kTicks, format: d3.format(".1f"),
  axisLeft: 35, axisStart: 30, axisRight: 153.3, labelSize: 8.4, sig: [[1, -0.5, 0.52, 0.975]],
  yLabel: ["input %"], yLabelX: 10.5, yLabelY: 683
});
legend(legendTwo, 41, [603.7, 620], [tealFill, purpleFill], 9.5);
drawBars({
  cats: lCats, values: [lNC, lELK4, lKDM], errors: [lNCErr, lELK4Err, lKDMErr], fills: [tealFill, purpleFill, navyFill],
  span: [208.6, 517.7], groupGap: 0.268, barGap: 0.32, y0: 743.7, yTop: 626.7, ymax: 2.5, ticks: lTicks, format: d3.format(".1f"),
  axisLeft: 203.3, axisRight: 525, labelSize: 8.4,
  sig: [
    [0, -1.3, 0, 1.97], [0, 0, 1.3, 2.04], [1, -1.13, 0.13, 1.87], [1, -0.02, 1.3, 1.82],
    [2, -1.13, 0.15, 2.03], [2, -0.02, 1.3, 2.09], [3, -1, 0.32, 1.15], [3, -0.23, 1.09, 0.93],
    [4, -1, 0.3, 1.16], [4, -0.13, 1.16, 0.99], [5, -0.95, 0.36, 1.15], [5, -0.15, 1.16, 0.99]
  ],
  yLabel: ["Relative expression"], yLabelX: 179, yLabelY: 685, yLabelSize: 9
});
legend(legendThree, 213.3, [603.3, 619.3, 635], [tealFill, purpleFill, navyFill], 9.4);
drawBars({
  cats: mCats, values: [mNC, mELK4, mKDM], errors: [mNCErr, mELK4Err, mKDMErr], fills: [tealFill, purpleFill, navyFill],
  span: [591, 776.5], groupGap: 0.267, barGap: 0.314, y0: 742, yTop: 625, ymax: 500, ticks: mTicks, format: d3.format("d"),
  axisLeft: 586, axisRight: 783.3, labelSize: 8.4,
  sig: [
    [0, -0.83, 0, 122], [0, 0.13, 0.97, 114], [1, -0.85, 0, 256], [1, 0.07, 0.92, 246],
    [2, -0.97, -0.14, 413], [2, 0.16, 0.99, 426]
  ],
  yLabel: ["The concentration of", "related factors (ng/ml)"], yLabelX: 547.5, yLabelY: 683, yLabelSize: 9.4
});
legend(legendThree, 594.3, [603.3, 619.3, 635], [tealFill, purpleFill, navyFill], 9.4);
</script>
</body>
</html>
